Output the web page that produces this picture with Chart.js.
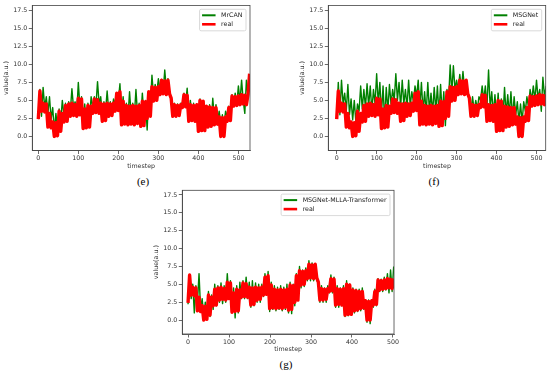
<!DOCTYPE html>
<html>
<head>
<meta charset="utf-8">
<script src="https://cdn.jsdelivr.net/npm/chart.js@4.4.1/dist/chart.umd.min.js"></script>
<style>
  body { margin: 0; background: #fff; }
  #wrap { position: relative; width: 550px; height: 373px; overflow: hidden; }
  canvas { position: absolute; }
  .cap { position: absolute; font-family: "Liberation Serif", "Times New Roman", serif; font-size: 11px; line-height: 12px;
         font-weight: 400; color: #000; transform: translateX(-50%); }
</style>
</head>
<body>
<div id="wrap">
  <canvas id="chartE" width="275" height="172" style="left:0px;top:0px"></canvas>
  <canvas id="chartF" width="254" height="172" style="left:296px;top:0px"></canvas>
  <canvas id="chartG" width="250" height="172" style="left:150px;top:185px"></canvas>
  <div class="cap" style="left:143px;top:175px">(e)</div>
  <div class="cap" style="left:434px;top:175px">(f)</div>
  <div class="cap" style="left:286px;top:358px">(g)</div>
</div>
<script>
// values, one every 4 timesteps
const real = [
  2.4, 6.3, 3.5, 4.6, 3.4, 4.5,
  1.3, 3.2, 1.2, 2.0, 0.0, 1.9,
  0.1, 3.5, 0.7, 3.2, 2.0, 4.3,
  2.1, 4.5, 2.8, 4.6, 2.9, 4.4,
  2.8, 5.3, 3.0, 5.2, 1.1, 3.8,
  1.2, 4.3, 1.3, 4.2, 3.2, 5.2,
  3.3, 5.1, 3.2, 4.6, 2.1, 4.5,
  2.2, 4.6, 2.8, 4.5, 2.9, 4.6,
  3.5, 6.0, 3.6, 6.2, 1.6, 4.9,
  1.7, 4.3, 1.6, 4.2, 1.7, 4.3,
  1.6, 4.2, 1.8, 4.3, 1.4, 4.9,
  1.5, 4.8, 2.5, 6.2, 2.8, 6.9,
  4.9, 6.8, 5.0, 6.9, 5.8, 7.8,
  5.9, 7.7, 5.8, 7.8, 5.9, 5.3,
  2.8, 4.4, 2.8, 4.3, 2.9, 4.4,
  4.0, 5.8, 4.1, 5.7, 2.1, 4.4,
  2.2, 4.3, 2.1, 4.4, 0.7, 5.0,
  0.8, 4.9, 0.8, 4.2, 1.3, 4.1,
  1.4, 4.0, 1.6, 4.0, 1.7, 2.7,
  0.0, 2.6, 0.0, 2.7, 2.1, 4.0,
  2.2, 5.6, 4.2, 5.5, 4.3, 5.6,
  4.4, 5.8, 4.5, 5.7, 4.4, 5.8,
  8.7
];

const mrcan = [
  2.4, 6.5, 2.8, 6.8, 4.0, 5.5,
  3.2, 5.5, 2.4, 4.0, 0.8, 3.2,
  0.9, 3.8, 2.0, 5.0, 3.0, 4.6,
  2.5, 4.8, 3.5, 6.6, 4.0, 4.8,
  3.2, 7.5, 4.0, 5.5, 2.0, 4.5,
  1.5, 4.6, 2.5, 5.5, 4.0, 5.5,
  4.2, 7.6, 4.5, 5.5, 3.0, 4.8,
  3.5, 6.3, 3.5, 4.8, 3.2, 5.2,
  4.5, 6.0, 5.0, 7.3, 3.0, 5.5,
  2.5, 4.6, 2.5, 6.2, 3.0, 4.6,
  2.8, 6.5, 3.0, 4.6, 2.5, 6.0,
  2.8, 5.0, 0.9, 5.8, 4.0, 8.5,
  5.5, 7.2, 6.0, 8.0, 6.5, 7.9,
  6.2, 9.2, 6.5, 8.0, 6.0, 5.0,
  3.0, 4.6, 3.2, 4.5, 3.0, 4.6,
  4.5, 6.0, 4.5, 6.7, 3.0, 5.0,
  2.8, 4.6, 2.5, 4.5, 1.5, 5.2,
  2.0, 4.5, 1.8, 4.2, 2.0, 4.4,
  2.0, 5.3, 2.5, 4.4, 2.2, 3.5,
  1.5, 3.0, 1.5, 3.5, 2.8, 4.2,
  3.0, 5.8, 4.5, 6.0, 4.5, 7.0,
  4.8, 7.8, 5.0, 3.2, 7.8, 5.5,
  8.5
];

const msgnet = [
  2.5, 7.5, 3.0, 7.8, 4.5, 6.0,
  3.5, 7.2, 3.0, 5.2, 2.3, 5.0,
  2.0, 4.5, 3.5, 7.0, 3.8, 6.5,
  4.0, 7.3, 4.2, 7.0, 3.5, 6.5,
  4.5, 8.7, 4.5, 7.5, 3.0, 7.0,
  2.0, 6.8, 3.5, 7.2, 4.5, 6.5,
  5.0, 8.7, 5.0, 7.5, 4.0, 7.8,
  4.5, 6.5, 4.0, 7.8, 4.2, 6.2,
  4.8, 7.0, 5.5, 7.8, 3.8, 7.5,
  3.5, 6.2, 3.2, 7.5, 3.5, 6.0,
  3.2, 6.8, 3.5, 7.0, 3.0, 7.2,
  3.0, 6.2, 1.5, 6.5, 5.0, 9.9,
  6.0, 9.8, 6.5, 7.8, 6.5, 8.6,
  6.5, 9.0, 6.5, 7.8, 6.0, 5.5,
  3.5, 5.5, 3.5, 5.0, 3.8, 5.5,
  5.0, 7.0, 5.0, 7.0, 4.0, 9.2,
  4.0, 6.2, 3.0, 5.8, 2.5, 6.0,
  2.0, 5.2, 2.5, 6.8, 3.0, 5.8,
  3.0, 6.2, 2.5, 5.5, 3.0, 4.8,
  2.0, 4.5, 2.0, 4.8, 3.5, 5.5,
  4.0, 6.5, 5.0, 7.0, 5.0, 7.8,
  5.2, 6.5, 3.5, 8.2, 5.5, 7.0,
  8.5
];

const mlla = [
  2.2, 6.3, 3.0, 5.0, 1.0, 4.8,
  2.5, 6.5, 1.5, 3.0, 0.3, 2.5,
  0.3, 4.0, 0.5, 3.5, 1.5, 5.0,
  2.0, 4.8, 2.5, 5.2, 2.3, 4.8,
  2.5, 6.5, 3.0, 5.5, 1.2, 4.5,
  0.3, 4.8, 1.0, 5.3, 3.0, 5.5,
  3.0, 6.0, 3.0, 5.3, 1.8, 5.5,
  2.0, 5.2, 2.5, 5.0, 2.5, 5.0,
  3.3, 6.5, 3.5, 6.8, 1.2, 5.3,
  1.5, 4.8, 1.3, 4.6, 1.5, 4.8,
  1.3, 4.6, 1.5, 5.0, 1.0, 5.3,
  0.9, 5.0, 2.0, 6.5, 3.0, 7.5,
  4.5, 7.0, 4.7, 7.3, 5.5, 8.3,
  5.5, 8.0, 5.5, 7.8, 5.5, 5.5,
  2.5, 4.8, 2.5, 4.5, 2.5, 4.8,
  3.8, 6.3, 3.8, 6.0, 1.8, 4.8,
  1.8, 4.5, 2.0, 4.8, 0.5, 5.5,
  0.6, 5.0, 0.8, 4.5, 1.0, 4.3,
  1.2, 4.3, 1.3, 4.5, 1.5, 2.8,
  -0.3, 2.8, -0.5, 2.8, 1.8, 4.3,
  2.0, 5.8, 4.0, 5.7, 4.0, 6.0,
  4.2, 6.5, 3.8, 7.0, 4.0, 7.5
];

const xTicks = [0, 100, 200, 300, 400, 500];
const yTicks = [0, 2.5, 5, 7.5, 10, 12.5, 15, 17.5];

const font = { family: 'DejaVu Sans', size: 6.3 };
const ink = '#333';
const spine = '#444';

// box around the plot area, like matplotlib spines
const frame = {
  id: 'frame',
  afterDatasetsDraw(chart) {
    const { ctx, chartArea: a } = chart;
    ctx.save();
    ctx.strokeStyle = spine;
    ctx.lineWidth = 0.8;
    ctx.strokeRect(a.left, a.top, a.right - a.left, a.bottom - a.top);
    ctx.restore();
  }
};

// legend in the upper right corner with a light frame
const boxLegend = {
  id: 'boxLegend',
  afterDraw(chart) {
    const { ctx, chartArea: a } = chart;
    const sets = chart.data.datasets;
    ctx.save();
    ctx.font = '6.3px "DejaVu Sans"';
    const tw = Math.max(...sets.map(d => ctx.measureText(d.label).width));
    const w = 2.5 + 13.5 + 5.5 + tw + 3.5;
    const h = 21.5;
    const x = a.right - 4 - w;
    const y = a.top + 3.8;
    ctx.fillStyle = 'rgba(255,255,255,0.85)';
    ctx.strokeStyle = '#cfcfcf';
    ctx.lineWidth = 0.8;
    ctx.beginPath();
    ctx.roundRect(x, y, w, h, 1.5);
    ctx.fill();
    ctx.stroke();
    sets.forEach((d, i) => {
      const cy = y + 6 + i * 9;
      ctx.strokeStyle = d.borderColor;
      ctx.lineWidth = i === 0 ? 2 : 2.6;
      ctx.beginPath();
      ctx.moveTo(x + 2.5, cy);
      ctx.lineTo(x + 16, cy);
      ctx.stroke();
      ctx.fillStyle = '#222';
      ctx.textBaseline = 'middle';
      ctx.fillText(d.label, x + 21.5, cy + 0.3);
    });
    ctx.restore();
  }
};

function makeChart(id, cfg) {
  const toPts = (vals, step) => vals.map((v, i) => ({ x: i * step, y: v }));
  return new Chart(document.getElementById(id), {
    type: 'line',
    data: {
      datasets: [
        { label: cfg.name, data: toPts(cfg.pred, cfg.step), borderColor: '#008000', borderWidth: 1.4, order: 1 },
        { label: 'real', data: toPts(cfg.real, cfg.step), borderColor: '#ff0000', borderWidth: 3.4, order: 0 }
      ]
    },
    options: {
      responsive: false,
      animation: false,
      devicePixelRatio: 1,
      layout: { padding: cfg.pad },
      elements: {
        point: { radius: 0 },
        line: { tension: 0, borderJoinStyle: 'round', fill: false }
      },
      plugins: { legend: { display: false }, tooltip: { enabled: false } },
      scales: {
        x: {
          type: 'linear', min: cfg.xMin, max: cfg.xMax,
          afterBuildTicks: s => { s.ticks = xTicks.map(v => ({ value: v })); },
          afterFit: s => { s.height = 20; },
          ticks: { font, color: ink, padding: 1, maxRotation: 0, autoSkip: false, callback: v => String(v) },
          grid: { drawOnChartArea: false, drawTicks: true, tickLength: 3.5, color: spine, lineWidth: 0.8 },
          border: { display: true, color: spine, width: 0.8 },
          title: { display: true, text: 'timestep', font, color: ink, padding: { top: 0, bottom: 0.5 } }
        },
        y: {
          min: -1.95, max: 18.15,
          afterBuildTicks: s => { s.ticks = yTicks.map(v => ({ value: v })); },
          afterFit: s => { s.width = 32.3; },
          ticks: { font, color: ink, padding: 1.5, autoSkip: false, callback: v => v.toFixed(1) },
          grid: { drawOnChartArea: false, drawTicks: true, tickLength: 3.5, color: spine, lineWidth: 0.8 },
          border: { display: true, color: spine, width: 0.8 },
          title: { display: true, text: 'value(a.u.)', font, color: ink, padding: { top: 3, bottom: 0 } }
        }
      }
    },
    plugins: [frame, boxLegend]
  });
}

makeChart('chartE', { name: 'MrCAN', pred: mrcan, real: real, step: 4,
  xMin: -15, xMax: 529, pad: { left: 0, top: 5.5, right: 25, bottom: 1.5 } });
makeChart('chartF', { name: 'MSGNet', pred: msgnet, real: real, step: 4,
  xMin: -21, xMax: 523, pad: { left: 0, top: 5.5, right: 4.3, bottom: 1.5 } });
makeChart('chartG', { name: 'MSGNet-MLLA-Transformer', pred: mlla, real: real.slice(0, 132), step: 3.83,
  xMin: -14, xMax: 502.5, pad: { left: 0, top: 5.3, right: 0.7, bottom: 3 } });
</script>
</body>
</html>
